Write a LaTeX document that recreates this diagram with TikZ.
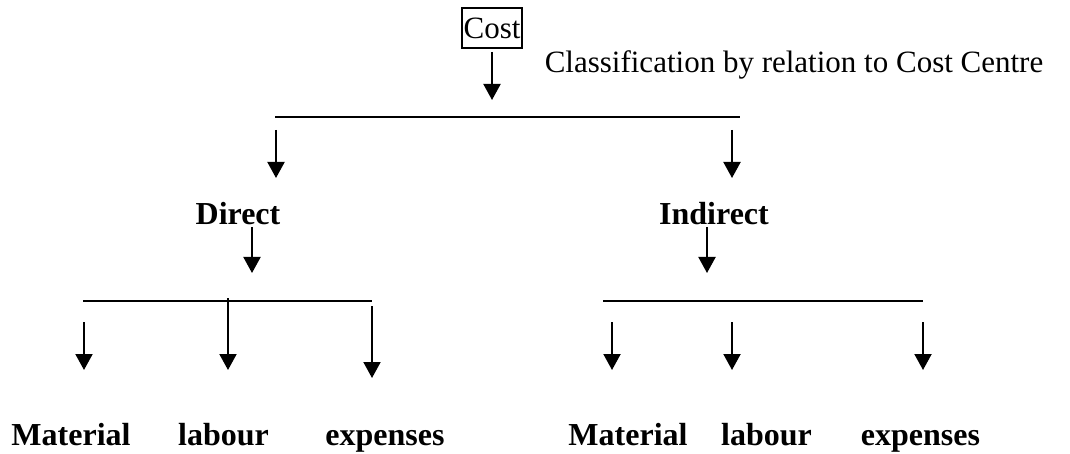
\documentclass[tikz,border=0pt]{standalone}
\usepackage{fontspec}
\setmainfont{Liberation Serif}
\usetikzlibrary{arrows.meta}
\begin{document}
\begin{tikzpicture}[x=1pt,y=-1pt,
  lbl/.style={inner sep=0pt, anchor=base, font=\fontsize{31}{36}\selectfont},
  blbl/.style={inner sep=0pt, anchor=base, font=\fontsize{32}{38}\selectfont\bfseries},
  arr/.style={line width=2pt, -{Triangle[width=17pt,length=16pt]}},
  bar/.style={line width=1.6pt},
  boxed/.style={draw, line width=1.5pt, inner sep=0pt, minimum width=60pt, minimum height=40pt, font=\fontsize{31}{36}\selectfont}]
\useasboundingbox (0,0) rectangle (1070,454);

% top
\node[boxed] (cost) at (492,28) {Cost};
\node[lbl] (cls) at (794,73) {Classification by relation to Cost Centre};
\coordinate (costs) at (492,52);
\coordinate (costt) at (492,100);
\draw[arr] (costs) -- (costt);

% first bar
\coordinate (b1l) at (275,117);
\coordinate (b1r) at (740,117);
\draw[bar] (b1l) -- (b1r);
\coordinate (a1s) at (276,130); \coordinate (a1t) at (276,178);
\coordinate (a2s) at (732,130); \coordinate (a2t) at (732,178);
\draw[arr] (a1s) -- (a1t);
\draw[arr] (a2s) -- (a2t);

% second level
\node[blbl] (direct) at (238,225) {Direct};
\node[blbl] (indirect) at (714,225) {Indirect};
\coordinate (ds) at (252,227); \coordinate (dt) at (252,273);
\coordinate (is) at (707,227); \coordinate (it) at (707,273);
\draw[arr] (ds) -- (dt);
\draw[arr] (is) -- (it);

% second bars
\coordinate (b2l) at (83,301); \coordinate (b2r) at (372,301);
\coordinate (b3l) at (603,301); \coordinate (b3r) at (923,301);
\draw[bar] (b2l) -- (b2r);
\draw[bar] (b3l) -- (b3r);

% direct branches
\coordinate (d1s) at (84,322);  \coordinate (d1t) at (84,370);
\coordinate (d2s) at (228,298); \coordinate (d2t) at (228,370);
\coordinate (d3s) at (372,306); \coordinate (d3t) at (372,378);
\draw[arr] (d1s) -- (d1t);
\draw[arr] (d2s) -- (d2t);
\draw[arr] (d3s) -- (d3t);

% indirect branches
\coordinate (i1s) at (612,322); \coordinate (i1t) at (612,370);
\coordinate (i2s) at (732,322); \coordinate (i2t) at (732,370);
\coordinate (i3s) at (923,322); \coordinate (i3t) at (923,370);
\draw[arr] (i1s) -- (i1t);
\draw[arr] (i2s) -- (i2t);
\draw[arr] (i3s) -- (i3t);

% bottom labels
\node[blbl] (dmat) at (71,445) {Material};
\node[blbl] (dlab) at (223.5,445) {labour};
\node[blbl] (dexp) at (385,445) {expenses};
\node[blbl] (imat) at (628,445) {Material};
\node[blbl] (ilab) at (766.5,445) {labour};
\node[blbl] (iexp) at (920.5,445) {expenses};
\end{tikzpicture}
\end{document}
